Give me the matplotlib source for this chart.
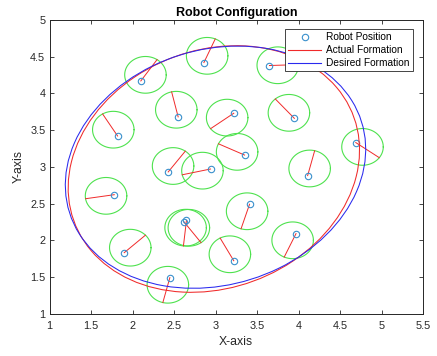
import numpy as np
import matplotlib
matplotlib.use('Agg')
import matplotlib.pyplot as plt
from matplotlib.patches import Ellipse

plt.rcParams['font.family'] = ['Liberation Sans', 'DejaVu Sans']

# robot positions and headings (deg)
robot_x = [2.10, 2.86, 3.65, 1.82, 2.55, 3.22, 3.95, 2.43, 2.94, 3.35,
           4.69, 4.11, 1.78, 3.41, 2.65, 2.62, 1.90, 3.22, 3.97, 2.45]
robot_y = [4.17, 4.42, 4.38, 3.42, 3.68, 3.73, 3.66, 2.93, 2.97, 3.16,
           3.33, 2.88, 2.62, 2.49, 2.27, 2.25, 1.83, 1.72, 2.09, 1.49]
heading = [56, 67, 2, 121, 103, 217, 131, 54, 193, 154,
           -36, 76, 189, 253, 264, -54, 43, 118, 246, 256]

# formation ellipses: center x, center y, semi-major, semi-minor, tilt (deg)
actual_ellipse = [2.98, 2.97, 1.85, 1.575, 37]
desired_ellipse = [3.00, 2.995, 1.876, 1.574, 29]

# sizes of the robot body drawing
BODY_R = 0.25
BODY_OFF = 0.10
HEAD_LEN = 0.35

fig = plt.figure(figsize=(4.37, 3.56), dpi=100)
ax = fig.add_axes([0.1133, 0.1191, 0.8547, 0.8247])

th = np.deg2rad(np.array(heading))
rx = np.array(robot_x)
ry = np.array(robot_y)
ux, uy = np.cos(th), np.sin(th)

# robot bodies (green) and heading lines (red)
t = np.linspace(0, 2 * np.pi, 120)
for i in range(len(rx)):
    cx = rx[i] + BODY_OFF * ux[i]
    cy = ry[i] + BODY_OFF * uy[i]
    ax.plot(cx + BODY_R * np.cos(t), cy + BODY_R * np.sin(t),
            color='#4ee24e', lw=0.8, zorder=2)
    ax.plot([rx[i], rx[i] + HEAD_LEN * ux[i]], [ry[i], ry[i] + HEAD_LEN * uy[i]],
            color='#f02a2a', lw=0.7, zorder=3)

ax.plot(rx, ry, 'o', mfc='none', mec='#3a90cc', ms=4.6, mew=0.8, ls='none',
        zorder=4, label='Robot Position')

for params, col, lab in [(actual_ellipse, '#f02a2a', 'Actual Formation'),
                         (desired_ellipse, '#2a2aee', 'Desired Formation')]:
    cx, cy, a, b, ang = params
    ax.add_patch(Ellipse((cx, cy), 2 * a, 2 * b, angle=ang, fill=False,
                         edgecolor=col, lw=0.75, zorder=5))
    ax.plot([], [], color=col, lw=0.8, label=lab)

ax.set_xlim(1, 5.5)
ax.set_ylim(1, 5)
ax.set_xticks(np.arange(1, 5.51, 0.5))
ax.set_yticks(np.arange(1, 5.01, 0.5))
ax.set_xticklabels(['1', '1.5', '2', '2.5', '3', '3.5', '4', '4.5', '5', '5.5'])
ax.set_yticklabels(['1', '1.5', '2', '2.5', '3', '3.5', '4', '4.5', '5'])
ax.tick_params(direction='in', top=True, right=True, length=3, width=0.6,
               labelsize=7.8, colors='#262626', pad=3)
ax.tick_params(axis='x', pad=5)
for s in ax.spines.values():
    s.set_color('#262626')
    s.set_linewidth(0.7)

ax.set_xlabel('X-axis', fontsize=8.8, color='#262626', labelpad=4)
ax.set_ylabel('Y-axis', fontsize=8.8, color='#262626', labelpad=4)
ax.set_title('Robot Configuration', fontsize=9, fontweight='bold', pad=3)

leg = ax.legend(loc='upper right', bbox_to_anchor=(0.973, 0.969), borderaxespad=0,
                fontsize=7.3, handlelength=3.3, handletextpad=0.5, labelspacing=0.3,
                fancybox=False, framealpha=1, edgecolor='#262626', borderpad=0.3)
leg.get_frame().set_linewidth(0.6)

fig.savefig('out.png', dpi=100)
